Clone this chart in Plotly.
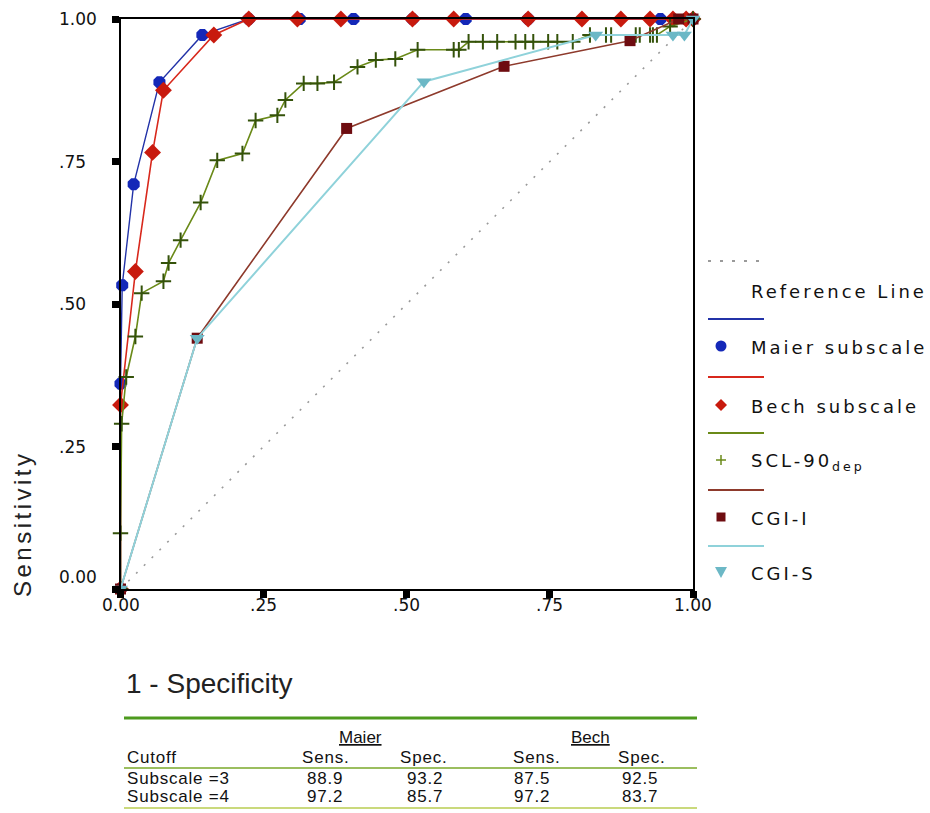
import plotly.graph_objects as go

W, H = 930, 813

# ---------------- data (x = 1 - specificity, y = sensitivity) ----------------
maier_x = [0.0, 0.0, 0.003, 0.023, 0.068, 0.143, 0.224, 0.313, 0.407, 0.51, 0.603, 0.712, 0.943, 1.0]
maier_y = [0.0, 0.36, 0.533, 0.71, 0.889, 0.972, 1.0, 1.0, 1.0, 1.0, 1.0, 1.0, 1.0, 1.0]

bech_x = [0.0, 0.0, 0.026, 0.056, 0.075, 0.163, 0.224, 0.309, 0.385, 0.51, 0.582, 0.712, 0.806, 0.874, 0.925, 0.965, 0.988, 1.0]
bech_y = [0.0, 0.323, 0.557, 0.766, 0.875, 0.972, 1.0, 1.0, 1.0, 1.0, 1.0, 1.0, 1.0, 1.0, 1.0, 1.0, 1.0, 1.0]

scl_x = [0.0, 0.0, 0.002, 0.01, 0.026, 0.037, 0.075, 0.084, 0.105, 0.14,
         0.169, 0.213, 0.236, 0.274, 0.288, 0.32, 0.344, 0.373, 0.414, 0.446,
         0.48, 0.519, 0.582, 0.591, 0.608, 0.633, 0.658, 0.69, 0.707, 0.721,
         0.747, 0.763, 0.79, 0.82, 0.848, 0.857, 0.90, 0.907, 0.925, 0.93,
         0.937, 0.96, 1.0]
scl_y = [0.0, 0.098, 0.29, 0.372, 0.443, 0.519, 0.54, 0.572, 0.612, 0.678,
         0.752, 0.764, 0.822, 0.831, 0.858, 0.887, 0.887, 0.889, 0.916, 0.928,
         0.93, 0.946, 0.946, 0.946, 0.96, 0.96, 0.96, 0.96, 0.96, 0.96,
         0.96, 0.96, 0.96, 0.972, 0.972, 0.972, 0.972, 0.972, 0.972, 0.972,
         0.972, 0.987, 1.0]

cgii_x = [0.0, 0.134, 0.395, 0.67, 0.89, 0.975, 1.0]
cgii_y = [0.0, 0.44, 0.808, 0.917, 0.962, 1.0, 1.0]

cgis_x = [0.0, 0.134, 0.53, 0.83, 0.965, 0.985, 1.0]
cgis_y = [0.0, 0.44, 0.89, 0.972, 0.972, 0.972, 1.0]

ref_x = [0.0, 1.0]
ref_y = [0.0, 1.0]

tick_vals = [0.0, 0.25, 0.5, 0.75, 1.0]
tick_text = ["0.00", ".25", ".50", ".75", "1.00"]

legend_names = ["Reference Line", "Maier subscale", "Bech subscale",
                "SCL-90<sub>dep</sub>", "CGI-I", "CGI-S"]

table_groups = ["Maier", "Bech"]
table_cols = ["Cutoff", "Sens.", "Spec.", "Sens.", "Spec."]
table_rows = ["Subscale =3", "Subscale =4"]
maier_sens = ["88.9", "97.2"]
maier_spec = ["93.2", "85.7"]
bech_sens = ["87.5", "97.2"]
bech_spec = ["92.5", "83.7"]

# ---------------- styles ----------------
C_REF = "#9a9a9a"
C_MAIER_L, C_MAIER_M = "#2333a8", "#1428b8"
C_BECH_L, C_BECH_M = "#d8281c", "#c81a0e"
C_SCL_L, C_SCL_M = "#6a8a18", "#34520a"
C_CGII_L, C_CGII_M = "#8e3a2c", "#6e0c10"
C_CGIS_L, C_CGIS_M = "#8fd2da", "#6cb8c6"
TXT = "#111111"
DEJ = "DejaVu Sans, Verdana, sans-serif"
ARI = "Liberation Sans, Arial, sans-serif"
NAR = "Liberation Sans Narrow, Arial Narrow, Liberation Sans, sans-serif"


def px(x):
    return x / W


def py(y):
    return 1 - y / H


fig = go.Figure()

fig.add_trace(go.Scatter(x=ref_x, y=ref_y, mode="lines",
                         line=dict(color=C_REF, width=1.6, dash="2px,9px"),
                         cliponaxis=False, hoverinfo="skip"))
fig.add_trace(go.Scatter(x=maier_x, y=maier_y, mode="lines+markers",
                         line=dict(color=C_MAIER_L, width=1.4),
                         marker=dict(symbol="octagon", size=13, color=C_MAIER_M),
                         cliponaxis=False))
fig.add_trace(go.Scatter(x=bech_x, y=bech_y, mode="lines+markers",
                         line=dict(color=C_BECH_L, width=1.6),
                         marker=dict(symbol="diamond", size=13, color=C_BECH_M),
                         cliponaxis=False))
fig.add_trace(go.Scatter(x=scl_x, y=scl_y, mode="lines+markers",
                         line=dict(color=C_SCL_L, width=1.6),
                         marker=dict(symbol="cross-thin", size=11,
                                     line=dict(color=C_SCL_M, width=2)),
                         cliponaxis=False))
fig.add_trace(go.Scatter(x=cgii_x, y=cgii_y, mode="lines+markers",
                         line=dict(color=C_CGII_L, width=1.6),
                         marker=dict(symbol="square", size=11, color=C_CGII_M),
                         cliponaxis=False))
fig.add_trace(go.Scatter(x=cgis_x, y=cgis_y, mode="lines+markers",
                         line=dict(color=C_CGIS_L, width=2),
                         marker=dict(symbol="triangle-down", size=13, color=C_CGIS_M),
                         cliponaxis=False))

# plot-area domain in figure pixels
X0, X1 = 120.5, 693.0
Y0, Y1 = 589.0, 19.0

annotations = []
shapes = []

# y tick labels (left aligned, SPSS style)
for v, t in zip(tick_vals, tick_text):
    annotations.append(dict(xref="paper", yref="y", x=px(57), y=v, text=t,
                            xanchor="left", yanchor="middle", showarrow=False,
                            yshift=12 if v == 0 else 0,
                            font=dict(family=DEJ, size=17, color=TXT)))
# x tick labels
for v, t in zip(tick_vals, tick_text):
    annotations.append(dict(xref="x", yref="paper", x=v, y=py(605), text=t,
                            xanchor="center", yanchor="middle", showarrow=False,
                            font=dict(family=DEJ, size=17, color=TXT)))

# axis titles
annotations.append(dict(xref="paper", yref="paper", x=px(22), y=py(524),
                        text='<span style="letter-spacing:3.5px">Sensitivity</span>',
                        textangle=-90, showarrow=False, xanchor="center", yanchor="middle",
                        font=dict(family=ARI, size=24, color="#222")))
annotations.append(dict(xref="paper", yref="paper", x=px(124), y=py(683),
                        text="1 - Specificity", showarrow=False,
                        xanchor="left", yanchor="middle",
                        font=dict(family=ARI, size=28, color="#222")))

# ---------------- custom legend ----------------
leg_line_y = [261, 319, 377, 433, 490, 546]
leg_text_y = [291, 347, 406, 462, 518, 573]
leg_line_col = [C_REF, C_MAIER_L, C_BECH_L, C_SCL_L, C_CGII_L, C_CGIS_L]
for i, name in enumerate(legend_names):
    shapes.append(dict(type="line", xref="paper", yref="paper",
                       x0=px(708), x1=px(764), y0=py(leg_line_y[i]), y1=py(leg_line_y[i]),
                       line=dict(color=leg_line_col[i], width=1.8,
                                 dash="3px,9px" if i == 0 else "solid")))
    annotations.append(dict(xref="paper", yref="paper", x=px(749), y=py(leg_text_y[i]),
                            text='<span style="letter-spacing:3px">%s</span>' % name,
                            showarrow=False, xanchor="left", yanchor="middle",
                            font=dict(family=DEJ, size=18, color=TXT)))

# legend marker glyphs
cx = 721
r = 5.5
cy = leg_text_y[1] - 1
shapes.append(dict(type="circle", xref="paper", yref="paper",
                   x0=px(cx - r), x1=px(cx + r), y0=py(cy + r), y1=py(cy - r),
                   fillcolor=C_MAIER_M, line=dict(width=0)))
cy = leg_text_y[2] - 1
shapes.append(dict(type="path", xref="paper", yref="paper",
                   path="M %f %f L %f %f L %f %f L %f %f Z" % (
                       px(cx), py(cy - 6), px(cx + 6), py(cy), px(cx), py(cy + 6), px(cx - 6), py(cy)),
                   fillcolor=C_BECH_M, line=dict(width=0)))
cy = leg_text_y[3] - 2
shapes.append(dict(type="line", xref="paper", yref="paper",
                   x0=px(cx - 5), x1=px(cx + 5), y0=py(cy), y1=py(cy),
                   line=dict(color=C_SCL_L, width=1.5)))
shapes.append(dict(type="line", xref="paper", yref="paper",
                   x0=px(cx), x1=px(cx), y0=py(cy - 5), y1=py(cy + 5),
                   line=dict(color=C_SCL_L, width=1.5)))
cy = leg_text_y[4] - 1
shapes.append(dict(type="rect", xref="paper", yref="paper",
                   x0=px(cx - 4.5), x1=px(cx + 4.5), y0=py(cy + 4.5), y1=py(cy - 4.5),
                   fillcolor=C_CGII_M, line=dict(width=0)))
cy = leg_text_y[5] - 1
shapes.append(dict(type="path", xref="paper", yref="paper",
                   path="M %f %f L %f %f L %f %f Z" % (
                       px(cx - 6), py(cy - 5), px(cx + 6), py(cy - 5), px(cx), py(cy + 6)),
                   fillcolor=C_CGIS_M, line=dict(width=0)))

# ---------------- table ----------------
TL, TR = 124, 697
shapes.append(dict(type="line", xref="paper", yref="paper", x0=px(TL), x1=px(TR),
                   y0=py(718), y1=py(718), line=dict(color="#4d9a1e", width=3)))
shapes.append(dict(type="line", xref="paper", yref="paper", x0=px(TL), x1=px(TR),
                   y0=py(768), y1=py(768), line=dict(color="#7aa82a", width=1.5)))
shapes.append(dict(type="line", xref="paper", yref="paper", x0=px(TL), x1=px(TR),
                   y0=py(808), y1=py(808), line=dict(color="#b8cc50", width=1.5)))

TFS = 17
TSP = '<span style="letter-spacing:0.8px">%s</span>'
group_x = [360, 590]
for gx, g in zip(group_x, table_groups):
    annotations.append(dict(xref="paper", yref="paper", x=px(gx), y=py(737),
                            text="<u>%s</u>" % g, showarrow=False,
                            xanchor="center", yanchor="middle",
                            font=dict(family=NAR, size=TFS, color=TXT)))

col_x = [125, 325, 423, 536, 641]
for j, c in enumerate(table_cols):
    annotations.append(dict(xref="paper", yref="paper", x=px(col_x[j]), y=py(757),
                            text=TSP % c, showarrow=False,
                            xanchor="left" if j == 0 else "center", yanchor="middle",
                            font=dict(family=NAR, size=TFS, color=TXT)))

row_y = [778, 796]
val_x = [325, 425, 532, 640]
for i, rname in enumerate(table_rows):
    vals = [maier_sens[i], maier_spec[i], bech_sens[i], bech_spec[i]]
    annotations.append(dict(xref="paper", yref="paper", x=px(col_x[0]), y=py(row_y[i]),
                            text=TSP % rname, showarrow=False, xanchor="left", yanchor="middle",
                            font=dict(family=NAR, size=TFS, color=TXT)))
    for k, v in enumerate(vals):
        annotations.append(dict(xref="paper", yref="paper", x=px(val_x[k]), y=py(row_y[i]),
                                text=TSP % v, showarrow=False, xanchor="center", yanchor="middle",
                                font=dict(family=NAR, size=TFS, color=TXT)))

fig.update_layout(
    width=W, height=H,
    margin=dict(l=0, r=0, t=0, b=0),
    paper_bgcolor="white", plot_bgcolor="white",
    showlegend=False,
    xaxis=dict(domain=[X0 / W, X1 / W], range=[0, 1], tickvals=tick_vals,
               ticks="outside", ticklen=7, tickwidth=7, tickcolor="black",
               showticklabels=False,
               showline=True, linecolor="black", linewidth=2, mirror=True,
               showgrid=False, zeroline=False),
    yaxis=dict(domain=[1 - Y0 / H, 1 - Y1 / H], range=[0, 1], tickvals=tick_vals,
               ticks="outside", ticklen=7, tickwidth=7, tickcolor="black",
               showticklabels=False,
               showline=True, linecolor="black", linewidth=2, mirror=True,
               showgrid=False, zeroline=False),
    annotations=annotations,
    shapes=shapes,
)

fig.write_html("out.html", config={"displayModeBar": False},
               post_script="document.body.style.margin='0';document.body.style.overflow='hidden';")
